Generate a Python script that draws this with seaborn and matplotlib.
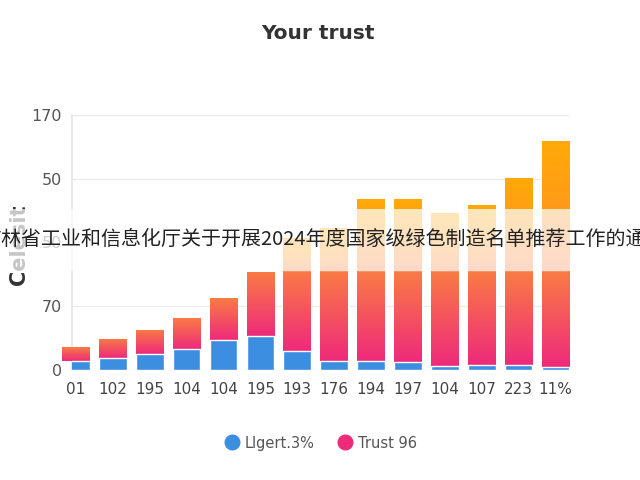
import numpy as np
import pandas as pd
import matplotlib
matplotlib.use("Agg")
import matplotlib.pyplot as plt
from matplotlib.colors import LinearSegmentedColormap
from matplotlib.lines import Line2D
from matplotlib.patches import Rectangle
import seaborn as sns

# values
labels = ["01", "102", "195", "104", "104", "195", "193", "176", "194", "197", "104", "107", "223", "11%"]
light = [6.0, 7.4, 10.5, 13.9, 19.8, 22.5, 12.3, 5.6, 6.0, 5.1, 2.4, 2.9, 3.3, 2.0]
trust = [9.0, 12.8, 16.2, 20.5, 27.8, 42.7, 52.9, 59.6, 59.2, 60.1, 62.8, 62.3, 61.9, 63.2]
extra = [0, 0, 0, 0, 0, 0, 22.4, 29.2, 48.6, 48.6, 39.3, 45.0, 62.9, 87.2]
ytick_vals = [0, 42.5, 85, 127.5, 170]
ytick_text = ["0", "70", "50", "50", "170"]
notice = "吉林省工业和信息化厅关于开展2024年度国家级绿色制造名单推荐工作的通知"

df = pd.DataFrame({"pos": range(len(labels)), "light": light, "trust": trust, "extra": extra})
df["mid"] = df["light"] + df["trust"]
df["total"] = df["mid"] + df["extra"]

sns.set_theme(style="whitegrid")
plt.rcParams["font.family"] = ["DejaVu Sans", "Noto Sans CJK SC"]

fig, ax = plt.subplots(figsize=(6.4, 4.8), dpi=100)
fig.subplots_adjust(left=0.113, right=0.8895, bottom=0.2302, top=0.7604)


def shade(patches, lows, highs, cmap, z):
    # vertical gradient inside each bar, clipped to the bar
    grad = np.linspace(0, 1, 256).reshape(-1, 1)
    for p, lo, hi in zip(patches, lows, highs):
        if hi - lo <= 0:
            continue
        x0 = p.get_x()
        im = ax.imshow(grad, extent=[x0, x0 + p.get_width(), lo, hi], origin="lower",
                       aspect="auto", cmap=cmap, zorder=z, interpolation="bilinear")
        im.set_clip_path(p)


orange_cmap = LinearSegmentedColormap.from_list("org", ["#FB7A42", "#FF9A18", "#FFAA08"])
red_cmap = LinearSegmentedColormap.from_list("red", ["#EE2A7B", "#FA7B44"])

n0 = len(ax.patches)
sns.barplot(data=df, x="pos", y="total", color="#FFA60A", saturation=1, width=0.75,
            errorbar=None, ax=ax, zorder=2)
top_bars = ax.patches[n0:]
shade(top_bars, df["mid"], df["total"], orange_cmap, 2.1)

n1 = len(ax.patches)
sns.barplot(data=df, x="pos", y="mid", color="#F24A6A", saturation=1, width=0.75,
            errorbar=None, ax=ax, zorder=3)
mid_bars = ax.patches[n1:]
shade(mid_bars, df["light"], df["mid"], red_cmap, 3.1)

sns.barplot(data=df, x="pos", y="light", color="#3C8EE0", saturation=1, width=0.75,
            errorbar=None, ax=ax, zorder=4)

ax.set_xlim(-0.10, 13.375)
ax.set_ylim(0, 170)
ax.set_xticks(range(len(labels)))
ax.set_xticklabels(labels, fontsize=11, color="#444444")
ax.set_yticks(ytick_vals)
ax.set_yticklabels(ytick_text, fontsize=11.5, color="#555555")
ax.tick_params(axis="both", length=0)
ax.tick_params(axis="x", pad=9)
ax.tick_params(axis="y", pad=7.5)
ax.grid(axis="y", color="#ebebeb", lw=1)
ax.grid(axis="x", visible=False)
for side in ["top", "right", "bottom"]:
    ax.spines[side].set_visible(False)
ax.spines["left"].set_color("#e6e6e6")
ax.set_xlabel("")
ax.set_ylabel("Celesit", fontsize=15, fontweight="bold", color="#333333")
ax.yaxis.set_label_coords(-0.088, 0.49)

fig.text(0.497, 0.931, "Your trust", fontsize=14.5, fontweight="bold", color="#333333",
         ha="center", va="center")

handles = [Line2D([], [], marker="o", ls="", color="#3C8EE0", markersize=10.5),
           Line2D([], [], marker="o", ls="", color="#EE2A7B", markersize=10.5)]
fig.legend(handles, ["Llgert.3%", "Trust 96"], loc="center", bbox_to_anchor=(0.5, 0.077),
           ncol=2, frameon=False, fontsize=10.5, labelcolor="#555555",
           handletextpad=0.3, columnspacing=1.5, handlelength=1.2)

# translucent band with the notice text across the chart
fig.patches.append(Rectangle((0, 0.4354), 1, 0.1292, transform=fig.transFigure,
                             facecolor="white", alpha=0.72, edgecolor="none", zorder=5))
fig.text(0.506, 0.502, notice, fontsize=14.4, color="#222222", ha="center", va="center",
         family=["Noto Sans CJK SC", "DejaVu Sans"], zorder=10)

fig.savefig("out.png", dpi=100)
